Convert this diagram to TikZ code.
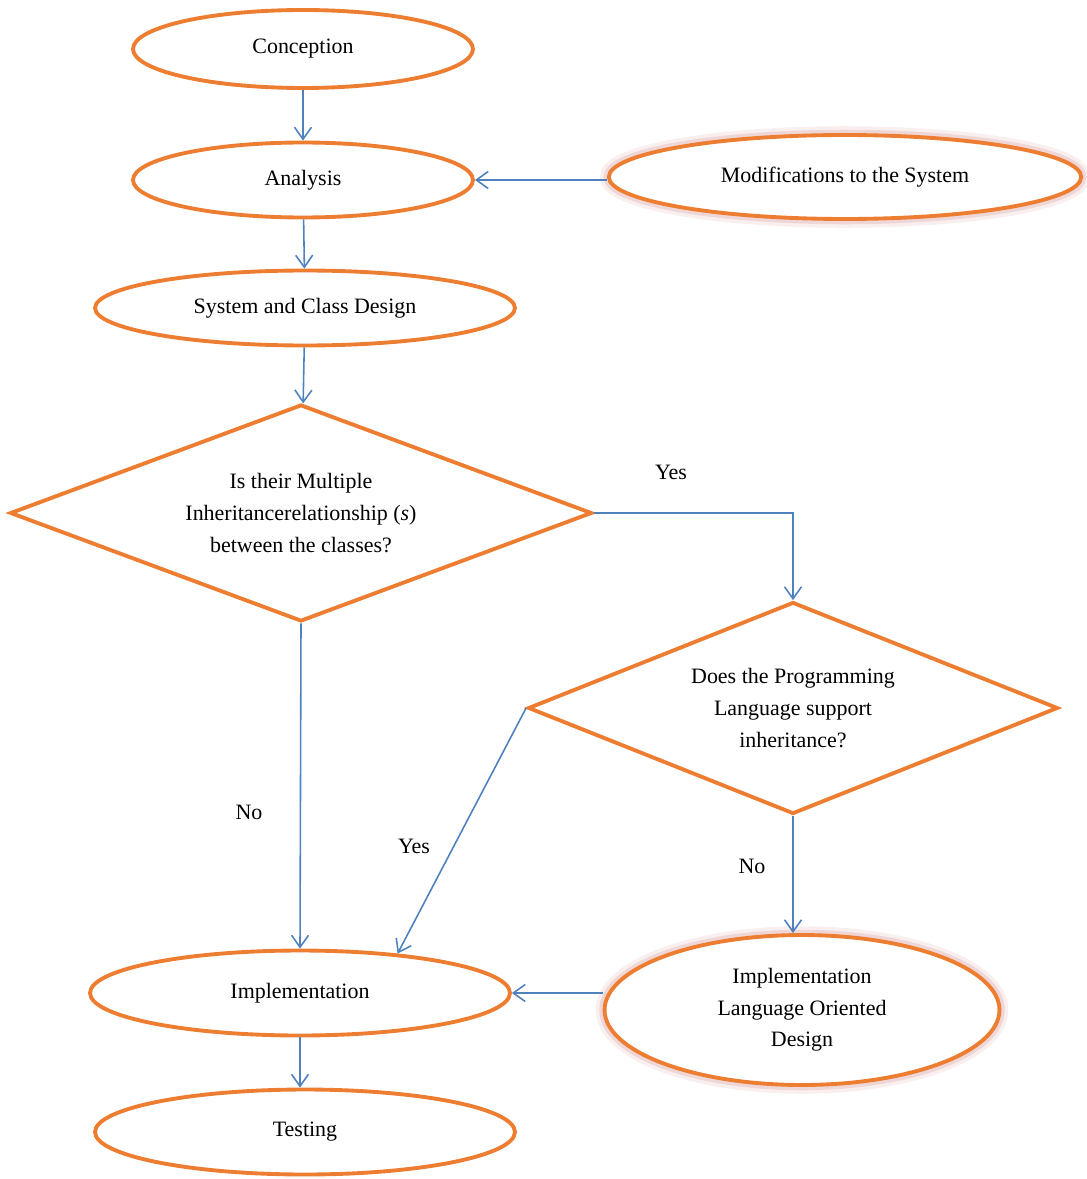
\documentclass[tikz,border=0pt]{standalone}
\usepackage{fontspec}
\setmainfont{Liberation Serif}
\usetikzlibrary{shapes.geometric,arrows.meta}
\definecolor{shapeline}{RGB}{237,125,49}
\definecolor{flowline}{RGB}{79,129,189}
\definecolor{glowcol}{RGB}{205,120,120}

\begin{document}
\begin{tikzpicture}[x=0.02cm,y=-0.02cm,
  every node/.style={font=\fontsize{12.5}{18}\selectfont},
  stage/.style={ellipse,draw=shapeline,line width=2.2pt,fill=white,inner sep=0pt,align=center},
  glowstage/.style={stage,
    preaction={draw=glowcol,fill=none,line width=10pt,opacity=0.12},
    preaction={draw=glowcol,fill=none,line width=6pt,opacity=0.2}},
  decision/.style={diamond,draw=shapeline,line width=2.2pt,fill=white,inner sep=0pt,align=center},
  flow/.style={draw=flowline,line width=0.9pt,-{Straight Barb[length=2.4mm,width=3.4mm]}}]
\useasboundingbox (0,0) rectangle (1086,1179);

\node[stage,minimum width=6.8cm,minimum height=1.56cm] (concept) at (303,49) {Conception};
\node[stage,minimum width=6.8cm,minimum height=1.5cm] (analysis) at (303,180) {Analysis};
\node[glowstage,minimum width=9.45cm,minimum height=1.68cm] (modif) at (845,177) {Modifications to the System};
\node[stage,minimum width=8.4cm,minimum height=1.5cm] (design) at (305,308) {System and Class Design};
\node[decision,aspect=2.68,minimum width=11.64cm,minimum height=4.34cm] (multi) at (301,513)
  {Is their Multiple\\Inheritancerelationship (\textit{s})\\between the classes?};
\node[decision,aspect=2.5,minimum width=10.6cm,minimum height=4.24cm] (support) at (793,708)
  {Does the Programming\\Language support\\inheritance?};
\node[stage,minimum width=8.4cm,minimum height=1.7cm] (impl) at (300,993) {Implementation};
\node[glowstage,minimum width=7.9cm,minimum height=3cm] (langdesign) at (802,1010)
  {Implementation\\Language Oriented\\Design};
\node[stage,minimum width=8.4cm,minimum height=1.7cm] (testing) at (305,1132) {Testing};

% labels on the branches
\node (yesmulti) at (671,472) {Yes};
\node (nomulti) at (249,812) {No};
\node (yessupport) at (414,846) {Yes};
\node (nosupport) at (752,866) {No};

\draw[flow] (concept) -- (analysis);
\draw[flow] (analysis) -- (design);
\draw[flow] (modif.west |- analysis) -- (analysis.east);
\draw[flow] (design) -- (multi);
\draw[flow] (multi.east) -| (support.north);
\draw[flow] (multi.south) -- (impl.north);
\draw[flow] (support.west) -- (impl.22);
\draw[flow] (support.south) -- (support.south |- langdesign.north);
\draw[flow] (langdesign.west |- impl.east) -- (impl.east);
\draw[flow] (impl.south) -- (impl.south |- testing.north);
\end{tikzpicture}
\end{document}
